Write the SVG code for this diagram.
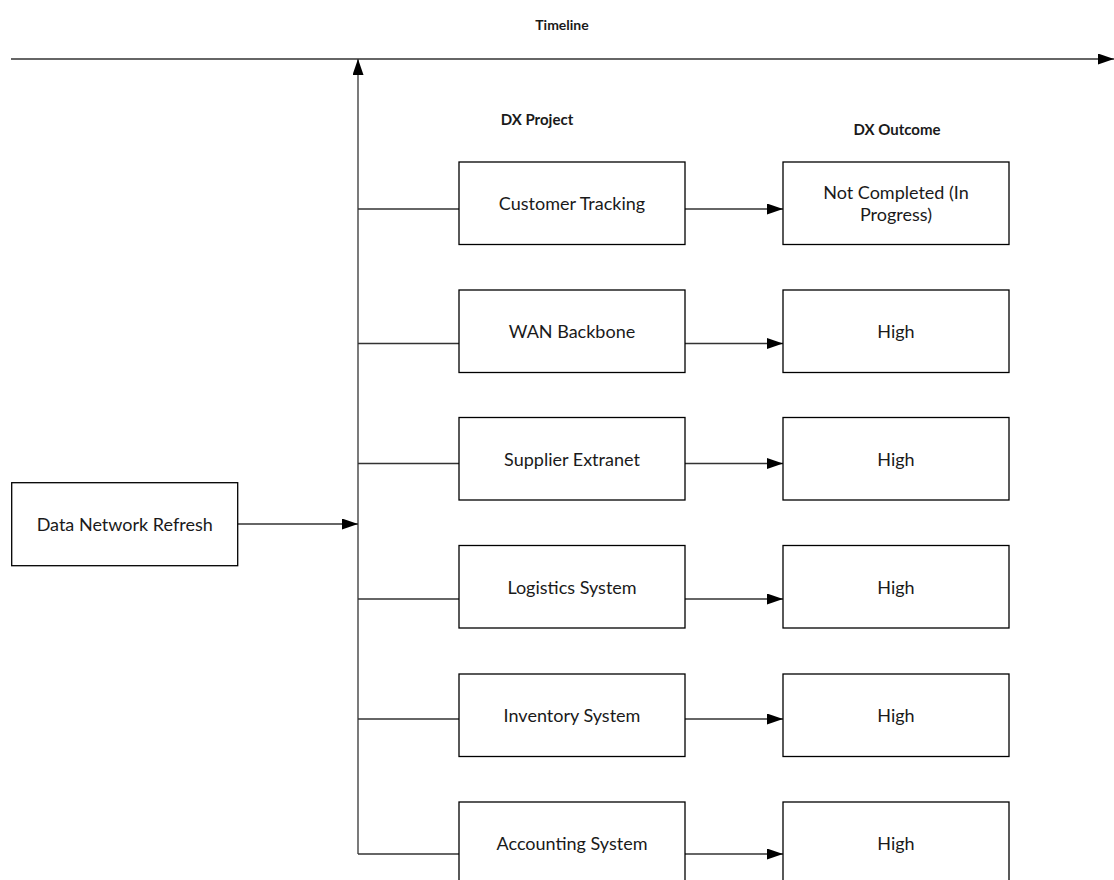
<svg xmlns="http://www.w3.org/2000/svg" width="1114" height="880" viewBox="0 0 1114 880">
  <style>
    .box { fill: #ffffff; stroke: #000000; stroke-width: 1.3; }
    .lbl { font-family: Lato, "Liberation Sans", sans-serif; font-size: 18px; fill: #1a1a1a; text-anchor: middle; dominant-baseline: central; }
    .hdr { font-family: Lato, "Liberation Sans", sans-serif; font-size: 15px; font-weight: bold; fill: #1a1a1a; text-anchor: middle; }
    .wire { fill: none; stroke: #333333; stroke-width: 1.3; }
  </style>
  <defs>
    <marker id="arrow" viewBox="0 0 16 11" refX="16" refY="5.5" markerWidth="16" markerHeight="11" markerUnits="userSpaceOnUse" orient="auto">
      <path d="M0,0 L16,5.5 L0,11 Z" fill="#000000"/>
    </marker>
  </defs>
  <rect width="1114" height="880" fill="#ffffff"/>

  <!-- column headings -->
  <g id="headings">
    <text class="hdr" x="562" y="30" style="font-size:14px">Timeline</text>
    <text class="hdr" x="537" y="125">DX Project</text>
    <text class="hdr" x="897" y="135">DX Outcome</text>
  </g>

  <!-- connectors -->
  <g id="connectors">
    <line class="wire" x1="11" y1="59" x2="1114" y2="59" marker-end="url(#arrow)"/>
    <line class="wire" x1="358" y1="854" x2="358" y2="59" marker-end="url(#arrow)"/>
    <line class="wire" x1="238" y1="524" x2="358" y2="524" marker-end="url(#arrow)"/>
    <line class="wire" x1="358" y1="209" x2="459" y2="209"/>
    <line class="wire" x1="358" y1="343.5" x2="459" y2="343.5"/>
    <line class="wire" x1="358" y1="463.5" x2="459" y2="463.5"/>
    <line class="wire" x1="358" y1="599" x2="459" y2="599"/>
    <line class="wire" x1="358" y1="719" x2="459" y2="719"/>
    <line class="wire" x1="358" y1="854" x2="459" y2="854"/>
    <line class="wire" x1="685" y1="209" x2="783" y2="209" marker-end="url(#arrow)"/>
    <line class="wire" x1="685" y1="343.5" x2="783" y2="343.5" marker-end="url(#arrow)"/>
    <line class="wire" x1="685" y1="463.5" x2="783" y2="463.5" marker-end="url(#arrow)"/>
    <line class="wire" x1="685" y1="599" x2="783" y2="599" marker-end="url(#arrow)"/>
    <line class="wire" x1="685" y1="719" x2="783" y2="719" marker-end="url(#arrow)"/>
    <line class="wire" x1="685" y1="854" x2="783" y2="854" marker-end="url(#arrow)"/>
  </g>

  <!-- source -->
  <g id="data-network-refresh">
    <rect class="box" x="11.7" y="482.7" width="226" height="83"/>
    <text class="lbl" x="124.7" y="524">Data Network Refresh</text>
  </g>

  <!-- projects -->
  <g id="customer-tracking">
    <rect class="box" x="459" y="162" width="226" height="82.5"/>
    <text class="lbl" x="572" y="203">Customer Tracking</text>
  </g>
  <g id="wan-backbone">
    <rect class="box" x="459" y="290" width="226" height="82.5"/>
    <text class="lbl" x="572" y="331">WAN Backbone</text>
  </g>
  <g id="supplier-extranet">
    <rect class="box" x="459" y="417.5" width="226" height="82.5"/>
    <text class="lbl" x="572" y="459">Supplier Extranet</text>
  </g>
  <g id="logistics-system">
    <rect class="box" x="459" y="545.5" width="226" height="82.5"/>
    <text class="lbl" x="572" y="587">Logistics System</text>
  </g>
  <g id="inventory-system">
    <rect class="box" x="459" y="674" width="226" height="82.5"/>
    <text class="lbl" x="572" y="715">Inventory System</text>
  </g>
  <g id="accounting-system">
    <rect class="box" x="459" y="802" width="226" height="82.5"/>
    <text class="lbl" x="572" y="843">Accounting System</text>
  </g>

  <!-- outcomes -->
  <g id="outcome-customer-tracking">
    <rect class="box" x="783" y="162" width="226" height="82.5"/>
    <text class="lbl" x="896" y="192">Not Completed (In</text>
    <text class="lbl" x="896" y="214">Progress)</text>
  </g>
  <g id="outcome-wan-backbone">
    <rect class="box" x="783" y="290" width="226" height="82.5"/>
    <text class="lbl" x="896" y="331">High</text>
  </g>
  <g id="outcome-supplier-extranet">
    <rect class="box" x="783" y="417.5" width="226" height="82.5"/>
    <text class="lbl" x="896" y="459">High</text>
  </g>
  <g id="outcome-logistics-system">
    <rect class="box" x="783" y="545.5" width="226" height="82.5"/>
    <text class="lbl" x="896" y="587">High</text>
  </g>
  <g id="outcome-inventory-system">
    <rect class="box" x="783" y="674" width="226" height="82.5"/>
    <text class="lbl" x="896" y="715">High</text>
  </g>
  <g id="outcome-accounting-system">
    <rect class="box" x="783" y="802" width="226" height="82.5"/>
    <text class="lbl" x="896" y="843">High</text>
  </g>
</svg>
